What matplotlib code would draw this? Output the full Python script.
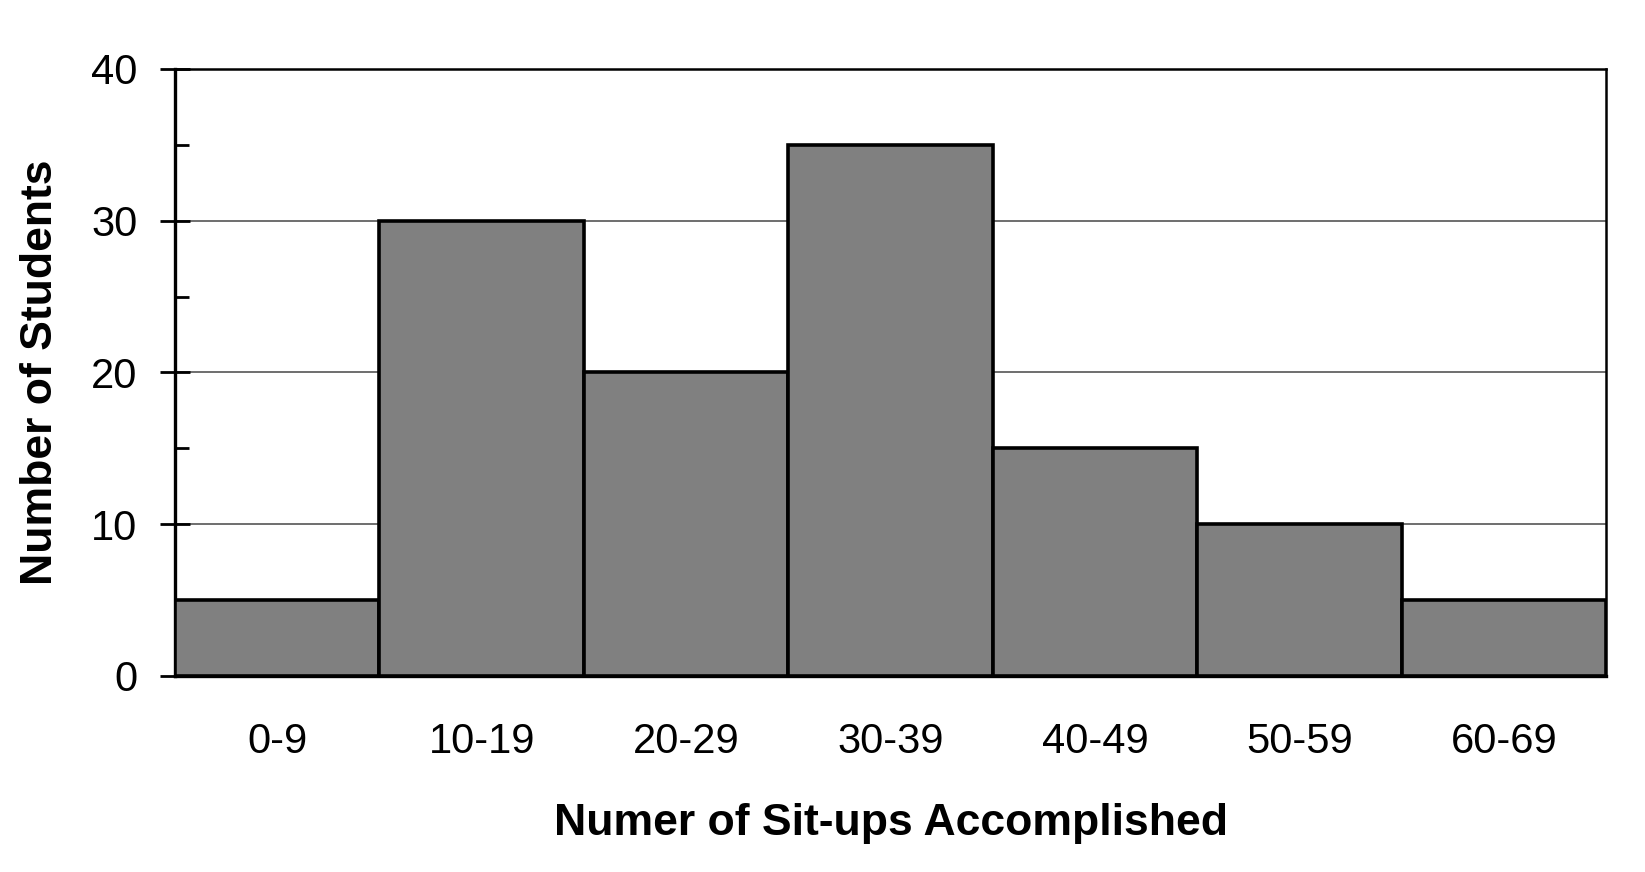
import matplotlib.pyplot as plt
from matplotlib.ticker import MultipleLocator

# data
categories = ['0-9', '10-19', '20-29', '30-39', '40-49', '50-59', '60-69']
students = [5, 30, 20, 35, 15, 10, 5]

plt.rcParams['font.family'] = ['Liberation Sans', 'DejaVu Sans']

fig = plt.figure(figsize=(16.45, 8.72), dpi=100)
ax = fig.add_axes([0.1064, 0.2248, 0.8699, 0.6961])

x = range(len(categories))
ax.bar(x, students, width=1.0, color='#808080', edgecolor='black',
       linewidth=2.6, zorder=3)

ax.set_xlim(-0.5, len(categories) - 0.5)
ax.set_ylim(0, 40)

ax.yaxis.set_major_locator(MultipleLocator(10))
ax.yaxis.set_minor_locator(MultipleLocator(5))
ax.grid(axis='y', which='major', color='#555555', linewidth=1.2, zorder=0)

ax.set_xticks(list(x))
ax.set_xticklabels(categories, fontsize=30)
ax.tick_params(axis='x', length=0, pad=33)
ax.tick_params(axis='y', which='major', direction='inout', length=22,
               width=2, labelsize=30, pad=16)
ax.tick_params(axis='y', which='minor', direction='in', length=10, width=2)

for side in ['left', 'bottom', 'right', 'top']:
    ax.spines[side].set_linewidth(2.4 if side in ('left', 'bottom') else 1.8)
    ax.spines[side].set_color('black')

ax.set_xlabel('Numer of Sit-ups Accomplished', fontsize=32, fontweight='bold',
              labelpad=30)
ax.set_ylabel('Number of Students', fontsize=32, fontweight='bold', labelpad=22)

fig.savefig('out.png', dpi=100, facecolor='white')
